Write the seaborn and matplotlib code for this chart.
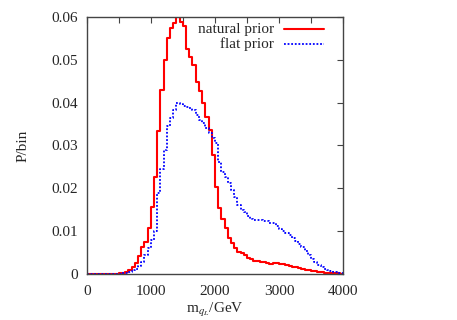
import numpy as np
import pandas as pd
import matplotlib
matplotlib.use("Agg")
import matplotlib.pyplot as plt
import seaborn as sns

# 50 GeV bins from 0 to 4000
bin_width = 50
bin_left = list(range(0, 4000, bin_width))

natural_prior = [
    0, 0, 0, 0, 0, 0, 0, 0, 0, 0,
    0.0001, 0.0002, 0.0004, 0.0009, 0.0015, 0.0026, 0.0042, 0.0062, 0.0075, 0.0107,
    0.0157, 0.0227, 0.0334, 0.0430, 0.0500, 0.0550, 0.0574, 0.0586, 0.0605, 0.0588,
    0.0580, 0.0525, 0.0507, 0.0488, 0.0449, 0.0426, 0.0400, 0.0367, 0.0336, 0.0278,
    0.0204, 0.0153, 0.0128, 0.0107, 0.0083, 0.0072, 0.0060, 0.0052, 0.0048, 0.0044,
    0.0038, 0.0034, 0.0031, 0.0030, 0.0028, 0.0027, 0.0026, 0.0024, 0.0025, 0.0026,
    0.0024, 0.0022, 0.0021, 0.0019, 0.0017, 0.0016, 0.0014, 0.0012, 0.0010, 0.0009,
    0.0007, 0.0006, 0.0005, 0.0004, 0.0003, 0.0002, 0.0002, 0.0001, 0.0001, 0.0,
]

flat_prior = [
    0, 0, 0, 0, 0, 0, 0, 0, 0, 0,
    0, 0.0001, 0.0002, 0.0004, 0.0008, 0.0012, 0.0018, 0.0029, 0.0044, 0.0060,
    0.0080, 0.0100, 0.0190, 0.0245, 0.0290, 0.0345, 0.0363, 0.0383, 0.0400, 0.0397,
    0.0392, 0.0390, 0.0387, 0.0383, 0.0371, 0.0359, 0.0352, 0.0340, 0.0328, 0.0317,
    0.0305, 0.0262, 0.0239, 0.0227, 0.0212, 0.0196, 0.0180, 0.0160, 0.0150, 0.0144,
    0.0135, 0.0129, 0.0127, 0.0126, 0.0125, 0.0124, 0.0123, 0.0120, 0.0118, 0.0112,
    0.0105, 0.0100, 0.0095, 0.0090, 0.0085, 0.0078, 0.0071, 0.0063, 0.0053, 0.0045,
    0.0035, 0.0027, 0.0020, 0.0016, 0.0012, 0.0009, 0.0007, 0.0004, 0.0002, 0.0001,
]

labels = ["natural prior", "flat prior"]

sns.set_style("white")
plt.rcParams["font.family"] = ["Liberation Serif", "DejaVu Serif"]
plt.rcParams["mathtext.fontset"] = "stix"

centers = np.array(bin_left) + bin_width / 2
df = pd.DataFrame({"m": centers, "natural": natural_prior, "flat": flat_prior})

fig = plt.figure(figsize=(4.57, 3.2), dpi=100)
ax = fig.add_axes([0.19, 0.144, 0.5605, 0.803])

sns.histplot(data=df, x="m", weights="natural", binwidth=bin_width, binrange=(0, 4000),
             element="step", fill=False, color="#ff0000", linewidth=1.5, ax=ax)
sns.histplot(data=df, x="m", weights="flat", binwidth=bin_width, binrange=(0, 4000),
             element="step", fill=False, color="#0000ff", linewidth=1.3,
             linestyle=(0, (1, 1)), ax=ax)

ax.set_xlim(0, 4000)
ax.set_ylim(0, 0.06)
ax.set_xticks([0, 1000, 2000, 3000, 4000])
ax.set_xticks([500, 1500, 2500, 3500], minor=True)
ax.set_yticks([0, 0.01, 0.02, 0.03, 0.04, 0.05, 0.06])
ax.set_yticklabels(["0", "0.01", "0.02", "0.03", "0.04", "0.05", "0.06"])
ax.tick_params(which="both", direction="in", top=True, right=True,
               length=4, width=0.8, color="#444444", labelsize=11, pad=6)
ax.tick_params(axis="x", which="both", pad=8)
for sp in ax.spines.values():
    sp.set_color("#444444")
    sp.set_linewidth(1.0)

ax.set_xlabel(r"m$_{q_L}$/GeV", fontsize=11, labelpad=2)
ax.set_ylabel("P/bin", fontsize=11, labelpad=16)

# gnuplot-style key: right aligned text followed by sample line
key_colors = ["#ff0000", "#0000ff"]
key_styles = ["-", (0, (1, 1))]
key_widths = [1.5, 1.3]
for i, lab in enumerate(labels):
    y = 0.953 - i * 0.058
    ax.text(0.73, y, lab, transform=ax.transAxes, ha="right", va="center", fontsize=11)
    ax.plot([0.77, 0.926], [y, y], transform=ax.transAxes, color=key_colors[i],
            linestyle=key_styles[i], linewidth=key_widths[i])

ax.set_facecolor("white")
fig.savefig("out.png", dpi=100, facecolor="white")
